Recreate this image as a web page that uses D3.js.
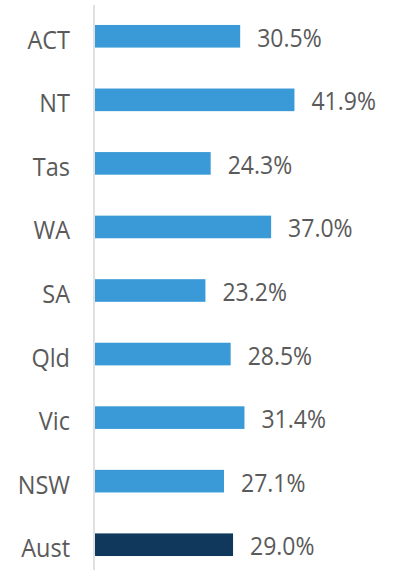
<!DOCTYPE html>
<html>
<head>
<meta charset="utf-8">
<script src="https://cdn.jsdelivr.net/npm/d3@7"></script>
<style>
  html, body { margin: 0; padding: 0; background: #ffffff; }
  svg { display: block; }
  text { font-family: "Open Sans", "Noto Sans", sans-serif; fill: #5a5a5a; }
</style>
</head>
<body>
<svg id="chart" width="393" height="570"></svg>
<script>
// Share by state/territory (%), listed top to bottom
const categories = ["ACT", "NT", "Tas", "WA", "SA", "Qld", "Vic", "NSW", "Aust"];
const values = [30.5, 41.9, 24.3, 37.0, 23.2, 28.5, 31.4, 27.1, 29.0];
const totalLabel = "Aust";

const W = 393, H = 570;
const svg = d3.select("#chart");

const x = d3.scaleLinear().domain([0, 50]).range([95, 333]);
const y = d3.scaleBand()
  .domain(categories)
  .range([4.5, 576.5])
  .paddingInner(0.644)
  .paddingOuter(0.322);

const fmt = v => d3.format(".1f")(v) + "%";
const data = categories.map((c, i) => ({ cat: c, val: values[i] }));

// vertical axis line
svg.append("line")
  .attr("x1", 94).attr("x2", 94)
  .attr("y1", 5).attr("y2", H)
  .attr("stroke", "#d9d9d9")
  .attr("stroke-width", 1.6);

// bars
svg.append("g").selectAll("rect")
  .data(data)
  .join("rect")
  .attr("x", x(0))
  .attr("y", d => y(d.cat))
  .attr("width", d => x(d.val) - x(0))
  .attr("height", y.bandwidth())
  .attr("fill", d => d.cat === totalLabel ? "#0f385c" : "#3a9ad7");

const stretch = 1.08;

// category labels
svg.append("g").selectAll("text")
  .data(data)
  .join("text")
  .attr("transform", d => `translate(70,${y(d.cat) + y.bandwidth() / 2 + 12.5}) scale(1,${stretch})`)
  .attr("text-anchor", "end")
  .attr("font-size", 23.5)
  .text(d => d.cat);

// value labels
svg.append("g").selectAll("text")
  .data(data)
  .join("text")
  .attr("transform", d => `translate(${x(d.val) + 17},${y(d.cat) + y.bandwidth() / 2 + 10.5}) scale(1,${stretch})`)
  .attr("text-anchor", "start")
  .attr("font-size", 23)
  .text(d => fmt(d.val));
</script>
</body>
</html>
